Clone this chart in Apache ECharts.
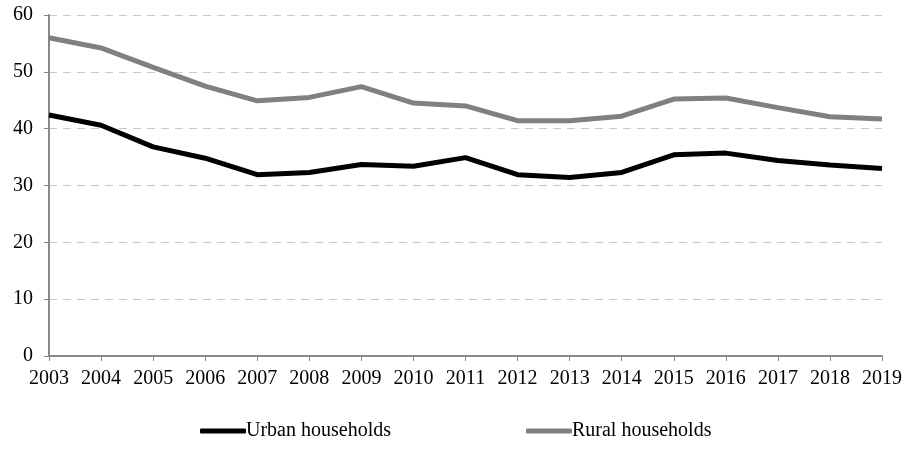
<!DOCTYPE html>
<html><head><meta charset="utf-8">
<script src="https://cdn.jsdelivr.net/npm/echarts@6/dist/echarts.min.js"></script>
<style>html,body{margin:0;padding:0;background:#fff}#c{width:920px;height:451px}</style>
</head><body><div id="c"></div>
<script>
var years = ['2003','2004','2005','2006','2007','2008','2009','2010','2011','2012','2013','2014','2015','2016','2017','2018','2019'];
var urban = [42.4,40.6,36.8,34.8,31.9,32.3,33.7,33.4,34.9,31.9,31.4,32.3,35.4,35.7,34.4,33.6,33.0];
var rural = [56.0,54.2,50.8,47.5,44.9,45.5,47.4,44.5,44.0,41.4,41.4,42.2,45.2,45.4,43.7,42.1,41.7];
var yTicks = [0,10,20,30,40,50,60];
var font = 'Liberation Serif';
var chart = echarts.init(document.getElementById('c'));
chart.setOption({
  animation:false,
  textStyle:{fontFamily:font},
  grid:{left:49,right:38,top:15,bottom:95,containLabel:false},
  legend:{bottom:5,left:195,itemGap:135,itemWidth:46,itemHeight:5,
    icon:'roundRect',
    textStyle:{fontFamily:font,fontSize:20,color:'#000',padding:[0,0,0,-5]},
    data:['Urban households','Rural households']},
  xAxis:{type:'category',data:years,boundaryGap:false,
    axisLine:{lineStyle:{color:'#888',width:2}},
    axisTick:{show:true,length:5,lineStyle:{color:'#888'}},
    axisLabel:{color:'#000',fontSize:20,fontFamily:font,margin:13}},
  yAxis:{type:'value',min:yTicks[0],max:yTicks[yTicks.length-1],interval:10,
    axisLine:{show:true,lineStyle:{color:'#888',width:2}},
    axisTick:{show:true,length:5,lineStyle:{color:'#888'}},
    axisLabel:{color:'#000',fontSize:20,fontFamily:font,margin:16}},
  series:[
    {name:'Urban households',type:'line',data:urban,symbol:'none',
      lineStyle:{color:'#000',width:5},itemStyle:{color:'#000'}},
    {name:'Rural households',type:'line',data:rural,symbol:'none',
      lineStyle:{color:'#808080',width:5},itemStyle:{color:'#808080'}}
  ]
});
chart.setOption({yAxis:{splitLine:{lineStyle:{color:'#c8c8c8',type:[8,6],width:1.2}}}});
</script></body></html>
